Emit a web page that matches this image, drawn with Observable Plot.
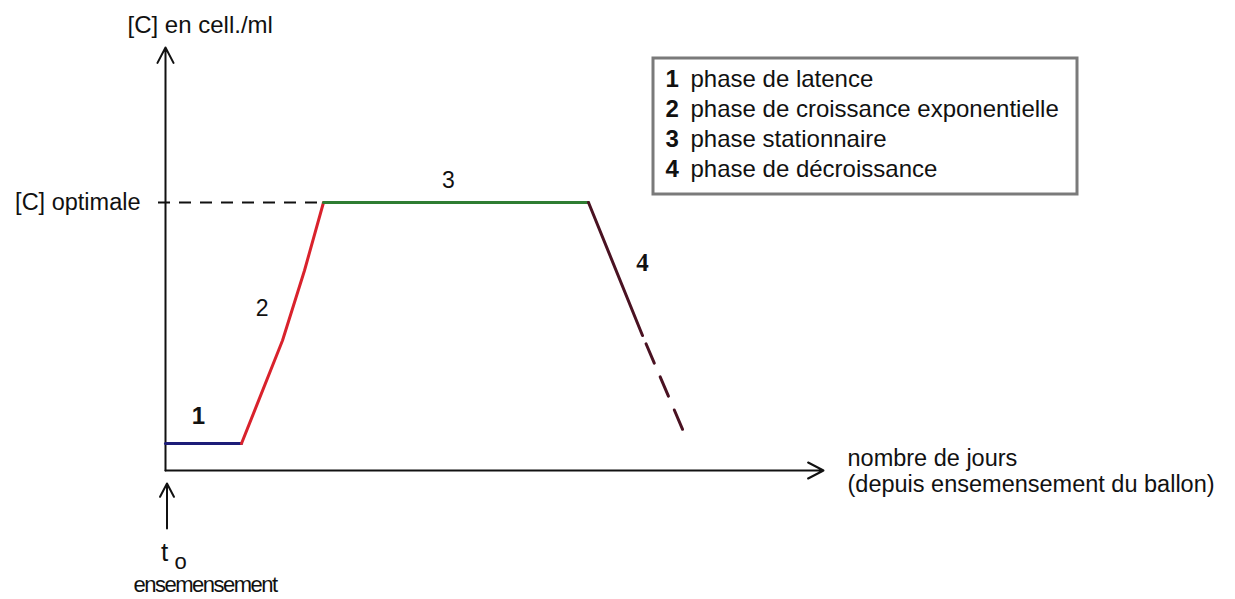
<!DOCTYPE html>
<html>
<head>
<meta charset="utf-8">
<script src="https://cdn.jsdelivr.net/npm/d3@7"></script>
<script src="https://cdn.jsdelivr.net/npm/@observablehq/plot@0.6"></script>
<style>
  html, body { margin: 0; padding: 0; background: #fff; }
  #chart svg { display: block; }
</style>
</head>
<body>
<div id="chart"></div>
<script>
// ---- data (days, concentration in arbitrary units) ----
const phaseNumbers = ["1", "2", "3", "4"];
const phaseNames = ["phase de latence", "phase de croissance exponentielle", "phase stationnaire", "phase de décroissance"];

const latenceDays = [0, 7.6];
const latenceConc = [2.7, 2.7];
const croissanceDays = [7.6, 11.7, 13.9, 15.8];
const croissanceConc = [2.7, 13.0, 20.0, 26.8];
const stationnaireDays = [15.8, 42.3];
const stationnaireConc = [26.8, 26.8];
const decroissanceDays = [42.3, 47.7];
const decroissanceConc = [26.8, 13.5];
const extrapolationDays = [47.7, 51.8];
const extrapolationConc = [13.5, 3.9];
const optimalConc = 26.8;

// annotation anchors (data units)
const labelDays = [3.3, 9.67, 28.3, 47.7];
const labelConc = [5.4, 16.17, 29.0, 20.8];

const yTitle = "[C] en cell./ml";
const yTickLabel = "[C] optimale";
const xTitleLines = ["nombre de jours", "(depuis ensemensement du ballon)"];
const t0Label = "t";
const t0Sub = "o";
const t0Caption = "ensemensement";

// ---- build tables ----
const toRows = (xs, ys) => xs.map((d, i) => ({day: d, conc: ys[i]}));
const latence = toRows(latenceDays, latenceConc);
const croissance = toRows(croissanceDays, croissanceConc);
const stationnaire = toRows(stationnaireDays, stationnaireConc);
const decroissance = toRows(decroissanceDays, decroissanceConc);
const extrapolation = toRows(extrapolationDays, extrapolationConc);
const phaseLabels = phaseNumbers.map((n, i) => ({n, day: labelDays[i], conc: labelConc[i]}));

const xMax = 66, yMax = 42.2;
const axes = [
  {x1: 0, y1: 0, x2: 0, y2: yMax + 0.1},
  {x1: 0, y1: 0, x2: xMax - 0.2, y2: 0}
];
const t0Arrow = [{x1: 0.15, y1: -5.8, x2: 0.15, y2: -1.3}];

const legendTop = 39.07, legendStep = 2.97;
const legendRows = phaseNames.map((name, i) => ({n: phaseNumbers[i], name, y: legendTop - i * legendStep}));
const legendBox = [{x1: 48.8, x2: 91.2, y1: 27.6, y2: 41.2}];

const font = "'Liberation Sans', Arial, sans-serif";

const chart = Plot.plot({
  width: 1235,
  height: 599,
  marginLeft: 165,
  marginRight: 410,
  marginTop: 48,
  marginBottom: 129,
  x: {domain: [0, xMax], axis: null},
  y: {domain: [0, yMax], axis: null},
  style: {fontFamily: font, background: "#fff", color: "#111"},
  marks: [
    // legend box
    Plot.rect(legendBox, {x1: "x1", x2: "x2", y1: "y1", y2: "y2", fill: "#fff", stroke: "#7a7a7a", strokeWidth: 3}),
    Plot.text(legendRows, {x: 50.0, y: "y", text: "n", textAnchor: "start", fontSize: 24, fontWeight: "bold", fill: "#111"}),
    Plot.text(legendRows, {x: 52.5, y: "y", text: "name", textAnchor: "start", fontSize: 24, fill: "#111"}),

    // dashed reference at optimal concentration
    Plot.ruleY([optimalConc], {x1: -0.7, x2: stationnaireDays[0], stroke: "#111", strokeWidth: 2, strokeDasharray: "12,9"}),

    // axes with open arrowheads
    Plot.arrow(axes, {x1: "x1", y1: "y1", x2: "x2", y2: "y2", stroke: "#111", strokeWidth: 2, headLength: 13, headAngle: 55}),
    Plot.arrow(t0Arrow, {x1: "x1", y1: "y1", x2: "x2", y2: "y2", stroke: "#111", strokeWidth: 2, headLength: 13, headAngle: 55}),

    // growth curve
    Plot.line(latence, {x: "day", y: "conc", stroke: "#1c1c78", strokeWidth: 3}),
    Plot.line(croissance, {x: "day", y: "conc", stroke: "#d9222c", strokeWidth: 3}),
    Plot.line(stationnaire, {x: "day", y: "conc", stroke: "#2f7d32", strokeWidth: 3}),
    Plot.line(decroissance, {x: "day", y: "conc", stroke: "#4a1222", strokeWidth: 3}),
    Plot.line(extrapolation, {x: "day", y: "conc", stroke: "#4a1222", strokeWidth: 3, strokeDasharray: "21,15", strokeDashoffset: 27}),

    // phase numbers
    Plot.text(phaseLabels.filter(d => d.n === "1"), {x: "day", y: "conc", text: "n", fontSize: 24, fontWeight: "bold", fill: "#111"}),
    Plot.text(phaseLabels.filter(d => d.n === "2" || d.n === "3"), {x: "day", y: "conc", text: "n", fontSize: 23, fill: "#111"}),
    Plot.text(phaseLabels.filter(d => d.n === "4"), {x: "day", y: "conc", text: "n", fontSize: 25, fontWeight: "bold", fontFamily: "'Liberation Serif', 'Times New Roman', serif", fill: "#111"}),

    // axis texts
    Plot.text([yTitle], {x: -3.8, y: 44.47, text: d => d, textAnchor: "start", fontSize: 24, fill: "#111"}),
    Plot.text([yTickLabel], {x: -2.5, y: optimalConc, text: d => d, textAnchor: "end", fontSize: 23.5, fill: "#111"}),
    Plot.text(xTitleLines.map((t, i) => ({t, y: 1.25 - i * 2.6})), {x: 68.2, y: "y", text: "t", textAnchor: "start", fontSize: 23.5, fill: "#111"}),
    Plot.text([t0Label], {x: -0.1, y: -8.17, text: d => d, fontSize: 26, fill: "#111"}),
    Plot.text([t0Sub], {x: 1.5, y: -9.1, text: d => d, fontSize: 22, fill: "#111"}),
    Plot.text([t0Caption], {x: 3.95, y: -11.43, text: d => d, fontSize: 22, fill: "#111"})
  ]
});

document.getElementById("chart").appendChild(chart);
d3.select(chart).selectAll("text").filter(function() { return this.textContent === t0Caption; })
  .attr("letter-spacing", "-1.5");
</script>
</body>
</html>
